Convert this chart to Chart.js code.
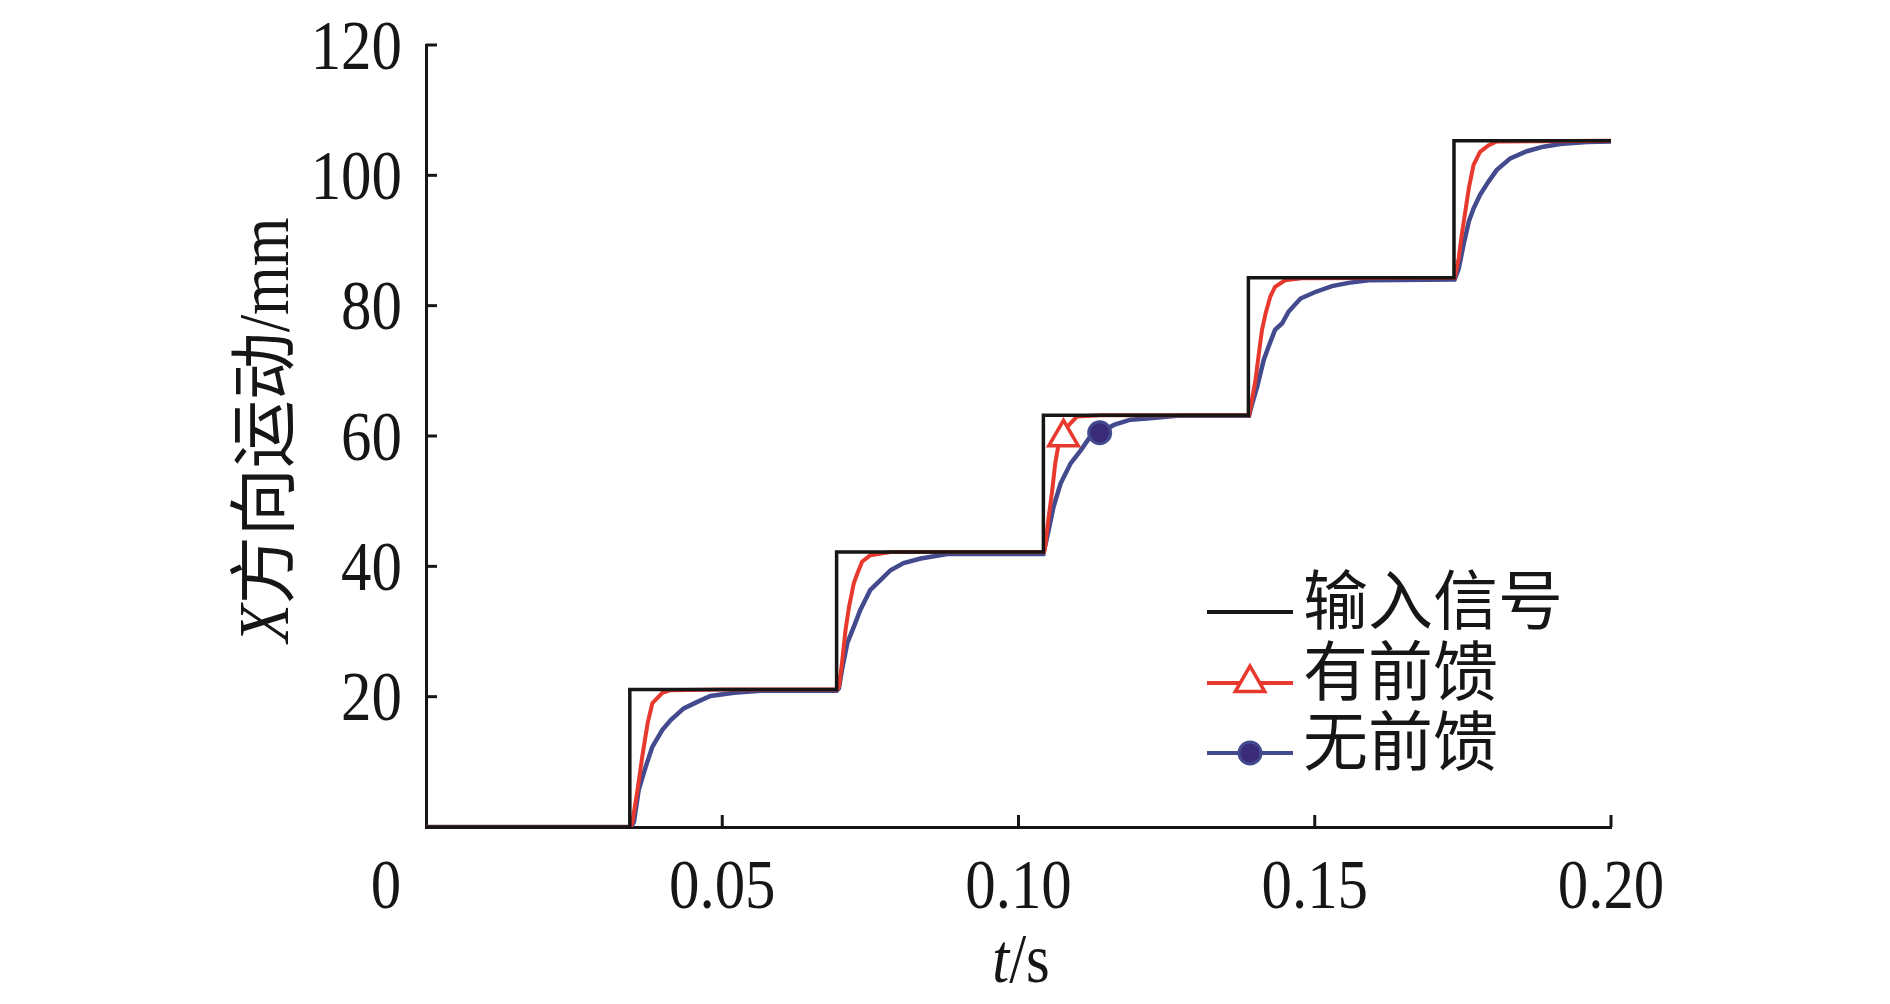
<!DOCTYPE html>
<html>
<head>
<meta charset="utf-8">
<script src="https://cdn.jsdelivr.net/npm/chart.js@4.4.1/dist/chart.umd.min.js"></script>
<style>
  html, body { margin: 0; padding: 0; background: #fff; }
  #wrap { width: 1890px; height: 1004px; }
</style>
</head>
<body>
<div id="wrap"><canvas id="stepChart" width="1890" height="1004"></canvas></div>
<script>
// series names (legend order)
const seriesNames = ['输入信号', '有前馈', '无前馈'];

// input signal (step command)
const inputT = [0, 0.0344, 0.0344, 0.0693, 0.0693, 0.1042, 0.1042, 0.1388, 0.1388, 0.1735, 0.1735, 0.2];
const inputY = [0, 0, 21.1, 21.1, 42.2, 42.2, 63.2, 63.2, 84.3, 84.3, 105.3, 105.3];

// with feedforward
const ffT = [0, 0.0345, 0.0348, 0.0357, 0.0365, 0.0374, 0.0382, 0.0399, 0.0413, 0.0500, 0.0694,
  0.0697, 0.0702, 0.0708, 0.0714, 0.0722, 0.0728, 0.0736, 0.0750, 0.0784, 0.1043,
  0.1045, 0.1051, 0.1057, 0.1062, 0.1068, 0.1076, 0.1082, 0.1099, 0.1140, 0.1389,
  0.1393, 0.1400, 0.1405, 0.1411, 0.1417, 0.1425, 0.1433, 0.1450, 0.1478, 0.1736,
  0.1743, 0.1748, 0.1754, 0.1760, 0.1768, 0.1779, 0.1793, 0.1807, 0.2000];
const ffY = [0, 0, 0.6, 5.7, 10.8, 15.9, 19.0, 20.6, 21.0, 21.1, 21.1,
  21.5, 25.1, 30.2, 33.8, 37.4, 38.9, 40.7, 41.7, 42.2, 42.2,
  43.0, 47.6, 51.7, 55.8, 58.9, 59.8, 61.4, 63.0, 63.2, 63.2,
  65.0, 68.6, 72.2, 76.3, 78.8, 81.4, 82.9, 83.9, 84.2, 84.3,
  87.3, 90.8, 94.4, 98.0, 101.6, 103.6, 104.6, 105.2, 105.3];

// without feedforward
const noFfT = [0, 0.0346, 0.0351, 0.0359, 0.0371, 0.0382, 0.0399, 0.0413, 0.0435, 0.0458, 0.0480, 0.0520, 0.0565, 0.0693,
  0.0697, 0.0702, 0.0711, 0.0722, 0.0733, 0.0750, 0.0767, 0.0784, 0.0806, 0.0835, 0.0880, 0.1042,
  0.1051, 0.1059, 0.1071, 0.1088, 0.1105, 0.1121, 0.1137, 0.1161, 0.1189, 0.1217, 0.1268, 0.1389,
  0.1393, 0.1403, 0.1414, 0.1422, 0.1433, 0.1445, 0.1456, 0.1476, 0.1501, 0.1529, 0.1557, 0.1591, 0.1736,
  0.1743, 0.1751, 0.1760, 0.1768, 0.1779, 0.1793, 0.1807, 0.1830, 0.1858, 0.1886, 0.1914, 0.1959, 0.2000];
const noFfY = [0, 0, 0.8, 5.7, 9.3, 12.3, 14.9, 16.4, 18.2, 19.2, 20.1, 20.6, 20.9, 20.9,
  21.3, 24.1, 28.2, 30.7, 33.3, 36.4, 37.9, 39.4, 40.5, 41.2, 41.9, 41.9,
  45.6, 49.1, 52.7, 55.8, 57.8, 59.9, 60.5, 61.7, 62.5, 62.7, 63.1, 63.1,
  64.5, 67.6, 71.7, 73.7, 76.3, 77.3, 79.1, 81.1, 82.1, 83.0, 83.5, 83.9, 84.0,
  85.7, 89.3, 92.9, 94.9, 97.0, 99.0, 100.8, 102.6, 103.7, 104.4, 104.8, 105.1, 105.2];

// where the single marker of each response sits
const ffMarkerT = 0.1076;
const noFfMarkerT = 0.1137;

// axis ticks
const xTicks = [0.05, 0.10, 0.15, 0.20];
const xTickLabels = ['0.05', '0.10', '0.15', '0.20'];
const yTicks = [20, 40, 60, 80, 100, 120];

const BLACK = '#161616';
const RED = '#e8392e';
const BLUE = '#434a8e';
const DOT = '#3a2c78';
const serif = "'Liberation Serif', 'Times New Roman', serif";
const cjk = "'Noto Sans CJK SC', 'Noto Sans CJK JP', sans-serif";
const squeeze = 0.87; // the figure's serif type is a bit narrow

const toPoints = (ts, ys) => ts.map((t, i) => ({ x: t, y: ys[i] }));

// draws a list of text runs one after the other, centred on x
function drawRuns(ctx, runs, x, y) {
  let total = 0;
  runs.forEach(r => {
    ctx.font = r.font;
    r.w = ctx.measureText(r.text).width * (r.sx || 1);
    total += r.w;
  });
  let cx = x - total / 2;
  runs.forEach(r => {
    ctx.save();
    ctx.font = r.font;
    ctx.translate(cx, y);
    ctx.scale(r.sx || 1, 1);
    ctx.fillText(r.text, 0, 0);
    ctx.restore();
    cx += r.w;
  });
}

function serifText(ctx, text, x, y, size, align) {
  ctx.save();
  ctx.font = `${size}px ${serif}`;
  const w = ctx.measureText(text).width * squeeze;
  const left = align === 'right' ? x - w : align === 'center' ? x - w / 2 : x;
  ctx.translate(left, y);
  ctx.scale(squeeze, 1);
  ctx.fillText(text, 0, 0);
  ctx.restore();
}

// ticks pointing inwards, tick labels, axis titles and the legend
const decorations = {
  id: 'decorations',
  afterDraw(chart) {
    const { ctx, chartArea } = chart;
    const xs = chart.scales.x;
    const ys = chart.scales.y;
    ctx.save();
    ctx.strokeStyle = BLACK;
    ctx.fillStyle = BLACK;
    ctx.lineWidth = 3;
    ctx.textAlign = 'left';
    ctx.textBaseline = 'alphabetic';

    xTicks.forEach((v, i) => {
      const px = xs.getPixelForValue(v);
      ctx.beginPath();
      ctx.moveTo(px, chartArea.bottom);
      ctx.lineTo(px, chartArea.bottom - 12);
      ctx.stroke();
      serifText(ctx, xTickLabels[i], px, 908, 70, 'center');
    });
    serifText(ctx, '0', xs.getPixelForValue(0) - 40, 908, 70, 'center');

    yTicks.forEach(v => {
      const py = ys.getPixelForValue(v);
      ctx.beginPath();
      ctx.moveTo(chartArea.left, py);
      ctx.lineTo(chartArea.left + 11, py);
      ctx.stroke();
      serifText(ctx, String(v), chartArea.left - 24, py + 23.5, 70, 'right');
    });

    // x title
    drawRuns(ctx, [
      { text: 't', font: `italic 70px ${serif}`, sx: squeeze },
      { text: '/s', font: `70px ${serif}`, sx: squeeze }
    ], 1021, 982);

    // y title
    ctx.save();
    ctx.translate(288, 430);
    ctx.rotate(-Math.PI / 2);
    drawRuns(ctx, [
      { text: 'X', font: `italic 72px ${serif}`, sx: squeeze },
      { text: '方向运动', font: `68px ${cjk}` },
      { text: '/mm', font: `72px ${serif}`, sx: squeeze }
    ], 0, 0);
    ctx.restore();

    // legend
    const rows = [612, 683, 753];
    const colors = [BLACK, RED, BLUE];
    rows.forEach((ly, i) => {
      ctx.strokeStyle = colors[i];
      ctx.lineWidth = 4;
      ctx.beginPath();
      ctx.moveTo(1207, ly);
      ctx.lineTo(1293, ly);
      ctx.stroke();
      if (i === 1) {
        const r = 17;
        ctx.fillStyle = '#fff';
        ctx.lineWidth = 3.5;
        ctx.beginPath();
        ctx.moveTo(1250, ly - r);
        ctx.lineTo(1250 + r * Math.sin(2 * Math.PI / 3), ly - r * Math.cos(2 * Math.PI / 3));
        ctx.lineTo(1250 + r * Math.sin(4 * Math.PI / 3), ly - r * Math.cos(4 * Math.PI / 3));
        ctx.closePath();
        ctx.fill();
        ctx.stroke();
      } else if (i === 2) {
        ctx.fillStyle = DOT;
        ctx.lineWidth = 3;
        ctx.beginPath();
        ctx.arc(1250, ly, 11, 0, Math.PI * 2);
        ctx.fill();
        ctx.stroke();
      }
      ctx.fillStyle = BLACK;
      ctx.font = `65px ${cjk}`;
      ctx.fillText(seriesNames[i], 1303, ly + 12);
    });
    ctx.restore();
  }
};

const markerRadius = (markerT, r) => c => (c.raw && Math.abs(c.raw.x - markerT) < 1e-6 ? r : 0);

new Chart(document.getElementById('stepChart').getContext('2d'), {
  type: 'line',
  data: {
    datasets: [
      {
        label: seriesNames[0],
        data: toPoints(inputT, inputY),
        borderColor: BLACK,
        borderWidth: 3.5,
        pointRadius: 0
      },
      {
        label: seriesNames[1],
        data: toPoints(ffT, ffY),
        borderColor: RED,
        borderWidth: 4,
        pointStyle: 'triangle',
        pointRadius: markerRadius(ffMarkerT, 17),
        pointBackgroundColor: '#fff',
        pointBorderColor: RED,
        pointBorderWidth: 3.5
      },
      {
        label: seriesNames[2],
        data: toPoints(noFfT, noFfY),
        borderColor: BLUE,
        borderWidth: 4.5,
        pointStyle: 'circle',
        pointRadius: markerRadius(noFfMarkerT, 11),
        pointBackgroundColor: DOT,
        pointBorderColor: BLUE,
        pointBorderWidth: 3
      }
    ]
  },
  options: {
    responsive: false,
    animation: false,
    devicePixelRatio: 1,
    layout: { padding: { top: 45, right: 279, bottom: 0, left: 0 } },
    plugins: {
      legend: { display: false },
      tooltip: { enabled: false }
    },
    scales: {
      x: {
        type: 'linear',
        min: 0,
        max: 0.2,
        ticks: { stepSize: 0.05, display: false },
        grid: { display: false },
        border: { display: true, color: BLACK, width: 3 },
        afterFit: scale => { scale.height = 177; }
      },
      y: {
        min: 0,
        max: 120,
        ticks: { stepSize: 20, display: false },
        grid: { display: false },
        border: { display: true, color: BLACK, width: 3 },
        afterFit: scale => { scale.width = 426; }
      }
    }
  },
  plugins: [decorations]
});
</script>
</body>
</html>
